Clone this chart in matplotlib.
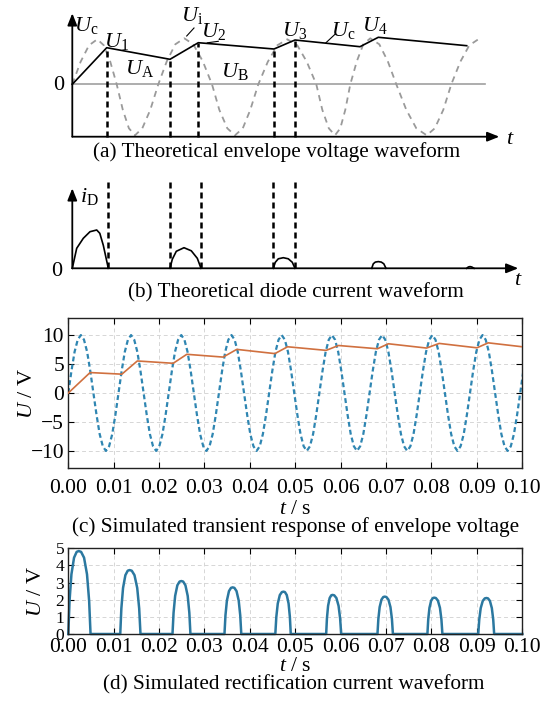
import numpy as np
import matplotlib
matplotlib.use('Agg')
import matplotlib.pyplot as plt

plt.rcParams['font.family'] = ['Liberation Serif', 'DejaVu Serif']
plt.rcParams['mathtext.fontset'] = 'custom'
plt.rcParams['mathtext.rm'] = 'Liberation Serif'
plt.rcParams['mathtext.it'] = 'Liberation Serif:italic'

# ---- (a) theoretical envelope, schematic units ----
a_env_t = [0, 3.44, 9.77, 12.6, 20.17, 22.27, 28.77, 30.6, 39.44]
a_env_u = [0, 3.66, 2.50, 4.16, 3.53, 4.43, 3.76, 4.70, 3.86]
# input voltage (gray dashed), read quarter by quarter
a_src_t = [0, 0.83, 1.67, 2.5,
           3.15, 3.8, 4.44,
           5.05, 5.66, 6.27,
           7.0, 7.8, 8.6,
           9.45, 10.3, 11.2,
           12.1, 13.05, 13.97,
           14.7, 15.5, 16.27,
           17.05, 17.8, 18.6,
           19.55, 20.5, 21.5,
           22.5, 23.45, 24.4,
           25.0, 25.65, 26.27,
           26.8, 27.3, 27.8,
           28.45, 29.1, 29.8,
           30.7, 31.55, 32.4,
           33.4, 34.4, 35.44,
           36.25, 37.1, 37.9,
           38.8, 39.7, 40.6]
a_src_u = [0, 2.25, 3.9, 4.5,
           3.9, 2.25, 0,
           -2.55, -4.4, -5.1,
           -4.4, -2.55, 0,
           2.3, 4.0, 4.6,
           4.0, 2.3, 0,
           -2.55, -4.4, -5.1,
           -4.4, -2.55, 0,
           2.25, 3.9, 4.5,
           3.9, 2.25, 0,
           -2.55, -4.4, -5.1,
           -4.4, -2.55, 0,
           2.3, 4.0, 4.6,
           4.0, 2.3, 0,
           -2.55, -4.4, -5.1,
           -4.4, -2.55, 0,
           2.25, 3.9, 4.5]
a_labels = [r'$U_{\mathrm{c}}$', r'$U_{\mathrm{1}}$', r'$U_{\mathrm{A}}$', r'$U_{\mathrm{i}}$',
            r'$U_{\mathrm{2}}$', r'$U_{\mathrm{B}}$', r'$U_{\mathrm{3}}$', r'$U_{\mathrm{c}}$',
            r'$U_{\mathrm{4}}$']
a_label_t = [1.44, 4.44, 6.77, 11.94, 14.1, 16.27, 22.27, 27.1, 30.27]
a_label_u = [5.93, 4.26, 1.63, 6.93, 5.26, 1.26, 5.43, 5.36, 5.93]

# ---- (b) theoretical diode current, schematic units ----
b_hump_t = [[0, 0.44, 1.1, 1.77, 2.44, 2.75, 3.1, 3.6],
            [9.77, 10.0, 10.4, 11.17, 11.9, 12.5, 12.87],
            [20.1, 20.3, 20.6, 21.1, 21.6, 22.0, 22.27],
            [29.94, 30.1, 30.3, 30.6, 30.9, 31.15, 31.37],
            [39.44, 39.6, 39.77, 39.95, 40.17]]
b_hump_i = [[0, 2.0, 3.0, 3.66, 3.83, 3.5, 2.3, 0],
            [0, 0.9, 1.7, 2.06, 1.75, 1.0, 0],
            [0, 0.6, 0.95, 1.06, 0.95, 0.6, 0],
            [0, 0.45, 0.62, 0.67, 0.62, 0.45, 0],
            [0, 0.13, 0.17, 0.13, 0]]
b_gate_t = [3.6, 9.77, 12.87, 20.1, 22.27]

# ---- (c) simulated transient response ----
c_env_t = [0, 0.0048, 0.0118, 0.0152, 0.0231, 0.0261, 0.0341, 0.0371, 0.0455, 0.0483,
           0.0568, 0.0595, 0.0681, 0.0705, 0.0789, 0.0817, 0.0900, 0.0925, 0.1000]
c_env_u = [0, 3.53, 3.25, 5.53, 5.13, 6.68, 6.20, 7.53, 6.80, 7.98,
           7.36, 8.20, 7.64, 8.50, 7.76, 8.56, 7.80, 8.66, 7.98]
c_period = 0.01106
c_cycle_u = [0, 3.8, 7.1, 9.2, 10, 9.2, 7.1, 3.8, 0, -3.8, -7.1, -9.2, -10, -9.2, -7.1, -3.8]

# ---- (d) simulated rectification current ----
d_start = [0.0, 0.01144, 0.02295, 0.0344, 0.0456, 0.0568, 0.0681, 0.0791, 0.0903]
d_peak_t = [0.0023, 0.0135, 0.0249, 0.0362, 0.0474, 0.0582, 0.0697, 0.0806, 0.0921]
d_end = [0.0049, 0.0159, 0.0269, 0.0381, 0.0490, 0.0601, 0.0715, 0.0824, 0.0938]
d_peak = [4.84, 3.73, 3.09, 2.72, 2.47, 2.28, 2.18, 2.12, 2.10]
# normalized hump edge: time fraction -> height fraction
d_frac = [0, 0.12, 0.3, 0.55, 0.8, 1.0]
d_shape = [0, 0.4, 0.72, 0.92, 0.99, 1.0]

x_ticks = [0.00, 0.01, 0.02, 0.03, 0.04, 0.05, 0.06, 0.07, 0.08, 0.09, 0.10]

W, H = 547, 703
fig = plt.figure(figsize=(W / 100, H / 100), dpi=100)


def px_axes(x0, y0, x1, y1):
    return fig.add_axes([x0 / W, 1 - y1 / H, (x1 - x0) / W, (y1 - y0) / H])


def arrow(ax, p0, p1):
    ax.annotate('', xy=p1, xytext=p0, annotation_clip=False,
                arrowprops=dict(arrowstyle='-|>,head_length=0.55,head_width=0.22',
                                lw=1.3, color='k', shrinkA=0, shrinkB=0,
                                mutation_scale=13))


LBL = 16
CAP = 15.3
TICK = 15.5

# (a)
ax = px_axes(52.3, 10, 522.3, 146.7)
ax.set_xlim(-2, 45)
ax.set_ylim(-6.24, 7.43)
ax.set_axis_off()
ax.plot([0, 41.3], [0, 0], color='#a0a0a0', lw=1.2)
ax.plot(a_src_t, a_src_u, color='#9a9a9a', lw=1.3, ls=(0, (3.4, 2.8)))
ax.plot(a_env_t, a_env_u, color='k', lw=1.2, zorder=4)
for t, u in zip(a_env_t[1:6], a_env_u[1:6]):
    ax.plot([t, t], [-5.24, u], color='k', lw=1.8, ls=(0, (2.4, 1.6)), zorder=3)
arrow(ax, (0, -5.24), (0, 7.1))
arrow(ax, (0, -5.24), (42.7, -5.24))
for s, t, u in zip(a_labels, a_label_t, a_label_u):
    ax.text(t, u, s, fontsize=LBL, ha='center', va='center')
ax.plot([11.44, 12.17], [4.83, 5.63], color='k', lw=0.8)
ax.plot([13.5, 14.6], [4.15, 4.3], color='k', lw=0.8)
ax.plot([25.37, 26.27], [4.16, 5.0], color='k', lw=0.8)
ax.text(-1.4, -0.07, '0', fontsize=LBL, ha='center', va='center')
ax.text(43.8, -5.5, r'$t$', fontsize=LBL, ha='center', va='center')
fig.text(277 / W, 1 - 152 / H, '(a) Theoretical envelope voltage waveform',
         fontsize=CAP, ha='center', va='center')

# (b)
ax = px_axes(52.3, 170, 532.3, 285)
ax.set_xlim(-2, 46)
ax.set_ylim(-1.67, 9.83)
ax.set_axis_off()
for ts, cs in zip(b_hump_t, b_hump_i):
    ax.plot(ts, cs, color='k', lw=1.2)
for t in b_gate_t:
    ax.plot([t, t], [0, 8.83], color='k', lw=1.8, ls=(0, (2.4, 1.6)))
arrow(ax, (0, 0), (0, 8.0))
arrow(ax, (0, 0), (44.6, 0))
ax.text(0.77, 7.16, r'$i_{\mathrm{D}}$', fontsize=LBL, ha='left', va='center')
ax.text(-1.56, -0.34, '0', fontsize=LBL, ha='center', va='center')
ax.text(44.6, -1.17, r'$t$', fontsize=LBL, ha='center', va='center')
fig.text(296 / W, 1 - 293 / H, '(b) Theoretical diode current waveform',
         fontsize=CAP, ha='center', va='center')


def style_sim(ax, pad, ylab_x, ysize, xlpad):
    for sp in ax.spines.values():
        sp.set_color('#222222')
        sp.set_linewidth(1.0)
    ax.set_xlim(0, 0.1)
    ax.set_xticks(x_ticks)
    ax.set_xticklabels(['%.2f' % v for v in x_ticks])
    ax.tick_params(direction='in', top=True, right=True, length=4, width=0.8)
    ax.tick_params(axis='x', pad=pad, labelsize=TICK)
    ax.tick_params(axis='y', pad=3, labelsize=ysize)
    ax.grid(True, ls=(0, (4, 3)), color='#d6d6d6', lw=0.7)
    ax.set_axisbelow(True)
    ax.set_xlabel(r'$t$ / s', fontsize=TICK, labelpad=xlpad)
    ax.set_ylabel(r'$U$ / V', fontsize=16)
    ax.yaxis.set_label_coords(ylab_x, 0.5)


# (c)
ax = px_axes(68.3, 317.7, 522.3, 468.3)
src_u = np.tile(c_cycle_u, 10)
src_t = np.arange(len(src_u)) * (c_period / len(c_cycle_u))
ax.plot(src_t, src_u, color='#2f86b2', lw=1.6, ls=(0, (2.2, 1.4)))
ax.plot(c_env_t, c_env_u, color='#d0703f', lw=1.2, zorder=3)
style_sim(ax, 8, -0.068, TICK, 1)
ax.set_ylim(-13, 13)
ax.set_yticks([-10, -5, 0, 5, 10])
fig.text(296 / W, 1 - 527 / H, '(c) Simulated transient response of envelope voltage',
         fontsize=CAP, ha='center', va='center')

# (d)
ax = px_axes(68.3, 548.3, 522.3, 634)
d_t, d_i = [], []
for s, p, e, a in zip(d_start, d_peak_t, d_end, d_peak):
    for f, h in zip(d_frac, d_shape):
        d_t.append(s + f * (p - s))
        d_i.append(a * h)
    for f, h in zip(d_frac[-2::-1], d_shape[-2::-1]):
        d_t.append(e - f * (e - p))
        d_i.append(a * h)
d_t.append(0.1)
d_i.append(0)
ax.plot(d_t, d_i, color='#2b78a0', lw=1.8, clip_on=False)
style_sim(ax, 3, -0.05, 12.5, 0)
ax.set_ylim(0, 5)
ax.set_yticks([0, 1, 2, 3, 4, 5])
fig.text(294 / W, 1 - 685 / H, '(d) Simulated rectification current waveform',
         fontsize=CAP, ha='center', va='center')

fig.savefig('out.png', dpi=100)
